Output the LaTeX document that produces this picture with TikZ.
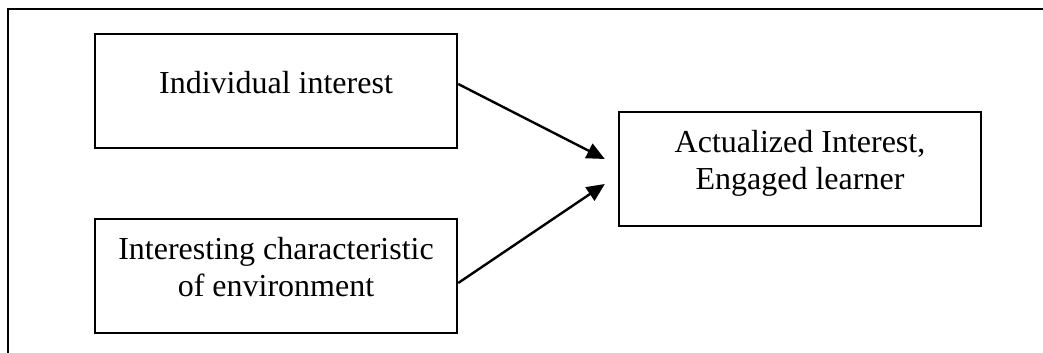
\documentclass[tikz,border=0pt]{standalone}
\usepackage{fontspec}
\setmainfont{Liberation Serif}
\usetikzlibrary{arrows.meta}

\begin{document}
\begin{tikzpicture}[x=0.5pt, y=-0.5pt,
        box/.style={draw, line width=1.2pt, rectangle, minimum width=181pt, minimum height=57pt,
            align=center, text depth=9pt, font=\fontsize{16}{18.5}\selectfont},
        link/.style={-{Triangle[length=9pt,width=8pt]}, line width=1.2pt}]
        \useasboundingbox (0,0) rectangle (1043,353);
        \draw[line width=1.2pt] (1043,9) -- (8,9) -- (8,353);

        \node[box] (indiv) at (276,91) {Individual interest};
        \node[box] (envir) at (276,276) {Interesting characteristic\\of environment};
        \node[box] (actual) at (800,169) {Actualized Interest,\\Engaged learner};

        \draw[link] ([yshift=3.5pt]indiv.east) -- ([xshift=-6.5pt,yshift=5pt]actual.west);
        \draw[link] ([yshift=-3.5pt]envir.east) -- ([xshift=-6.5pt,yshift=-7.5pt]actual.west);
    \end{tikzpicture}
\end{document}
